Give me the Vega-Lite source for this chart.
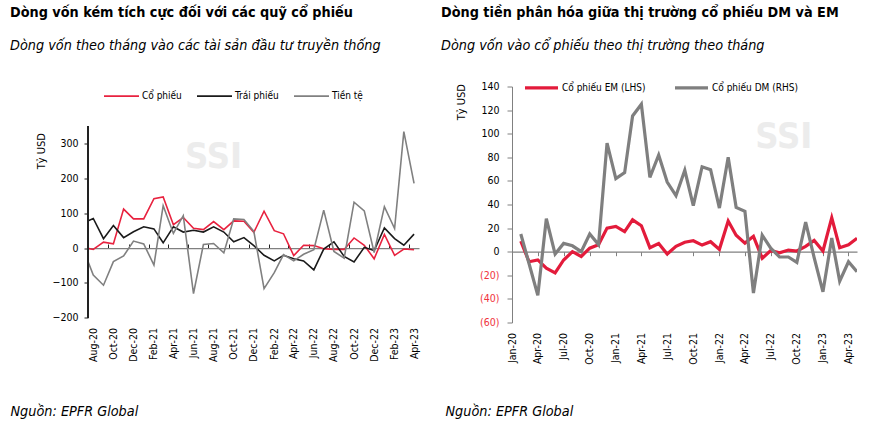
{
  "$schema": "https://vega.github.io/schema/vega-lite/v6.json",
  "background": "white",
  "padding": {"left": 10, "top": 5.5, "right": 5, "bottom": 5},
  "spacing": 21,
  "resolve": {"scale": {"color": "independent", "x": "independent", "y": "independent"}, "legend": {"color": "independent"}},
  "config": {
    "font": "'DejaVu Sans Condensed', 'Liberation Sans Narrow', sans-serif",
    "view": {"stroke": null},
    "axis": {"grid": false, "labelColor": "#000", "titleColor": "#000", "titleFontWeight": "normal", "labelFontSize": 10.5, "titleFontSize": 11, "labelOverlap": false},
    "legend": {"labelFontSize": 10, "labelColor": "#000", "symbolType": "stroke"},
    "title": {"color": "#000", "subtitleColor": "#000"}
  },
  "datasets": {
    "L": [
      {"d":"2020-07-01","s":"Cổ phiếu","v":2},{"d":"2020-08-01","s":"Cổ phiếu","v":-4},{"d":"2020-09-01","s":"Cổ phiếu","v":17},{"d":"2020-10-01","s":"Cổ phiếu","v":12},{"d":"2020-11-01","s":"Cổ phiếu","v":112},{"d":"2020-12-01","s":"Cổ phiếu","v":84},
      {"d":"2021-01-01","s":"Cổ phiếu","v":84},{"d":"2021-02-01","s":"Cổ phiếu","v":142},{"d":"2021-03-01","s":"Cổ phiếu","v":147},{"d":"2021-04-01","s":"Cổ phiếu","v":67},{"d":"2021-05-01","s":"Cổ phiếu","v":88},{"d":"2021-06-01","s":"Cổ phiếu","v":57},
      {"d":"2021-07-01","s":"Cổ phiếu","v":53},{"d":"2021-08-01","s":"Cổ phiếu","v":76},{"d":"2021-09-01","s":"Cổ phiếu","v":53},{"d":"2021-10-01","s":"Cổ phiếu","v":78},{"d":"2021-11-01","s":"Cổ phiếu","v":77},{"d":"2021-12-01","s":"Cổ phiếu","v":45},
      {"d":"2022-01-01","s":"Cổ phiếu","v":106},{"d":"2022-02-01","s":"Cổ phiếu","v":50},{"d":"2022-03-01","s":"Cổ phiếu","v":41},{"d":"2022-04-01","s":"Cổ phiếu","v":-22},{"d":"2022-05-01","s":"Cổ phiếu","v":8},{"d":"2022-06-01","s":"Cổ phiếu","v":7},
      {"d":"2022-07-01","s":"Cổ phiếu","v":-2},{"d":"2022-08-01","s":"Cổ phiếu","v":-4},{"d":"2022-09-01","s":"Cổ phiếu","v":-4},{"d":"2022-10-01","s":"Cổ phiếu","v":29},{"d":"2022-11-01","s":"Cổ phiếu","v":8},{"d":"2022-12-01","s":"Cổ phiếu","v":-31},
      {"d":"2023-01-01","s":"Cổ phiếu","v":39},{"d":"2023-02-01","s":"Cổ phiếu","v":-21},{"d":"2023-03-01","s":"Cổ phiếu","v":-3},{"d":"2023-04-01","s":"Cổ phiếu","v":-5},
      {"d":"2020-07-01","s":"Trái phiếu","v":72},{"d":"2020-08-01","s":"Trái phiếu","v":85},{"d":"2020-09-01","s":"Trái phiếu","v":27},{"d":"2020-10-01","s":"Trái phiếu","v":65},{"d":"2020-11-01","s":"Trái phiếu","v":30},{"d":"2020-12-01","s":"Trái phiếu","v":47},
      {"d":"2021-01-01","s":"Trái phiếu","v":61},{"d":"2021-02-01","s":"Trái phiếu","v":55},{"d":"2021-03-01","s":"Trái phiếu","v":15},{"d":"2021-04-01","s":"Trái phiếu","v":61},{"d":"2021-05-01","s":"Trái phiếu","v":46},{"d":"2021-06-01","s":"Trái phiếu","v":51},
      {"d":"2021-07-01","s":"Trái phiếu","v":46},{"d":"2021-08-01","s":"Trái phiếu","v":61},{"d":"2021-09-01","s":"Trái phiếu","v":46},{"d":"2021-10-01","s":"Trái phiếu","v":18},{"d":"2021-11-01","s":"Trái phiếu","v":30},{"d":"2021-12-01","s":"Trái phiếu","v":7},
      {"d":"2022-01-01","s":"Trái phiếu","v":-21},{"d":"2022-02-01","s":"Trái phiếu","v":-37},{"d":"2022-03-01","s":"Trái phiếu","v":-21},{"d":"2022-04-01","s":"Trái phiếu","v":-31},{"d":"2022-05-01","s":"Trái phiếu","v":-37},{"d":"2022-06-01","s":"Trái phiếu","v":-63},
      {"d":"2022-07-01","s":"Trái phiếu","v":-3},{"d":"2022-08-01","s":"Trái phiếu","v":18},{"d":"2022-09-01","s":"Trái phiếu","v":-24},{"d":"2022-10-01","s":"Trái phiếu","v":-40},{"d":"2022-11-01","s":"Trái phiếu","v":2},{"d":"2022-12-01","s":"Trái phiếu","v":-7},
      {"d":"2023-01-01","s":"Trái phiếu","v":58},{"d":"2023-02-01","s":"Trái phiếu","v":27},{"d":"2023-03-01","s":"Trái phiếu","v":8},{"d":"2023-04-01","s":"Trái phiếu","v":40},
      {"d":"2020-07-01","s":"Tiền tệ","v":-2},{"d":"2020-08-01","s":"Tiền tệ","v":-78},{"d":"2020-09-01","s":"Tiền tệ","v":-107},{"d":"2020-10-01","s":"Tiền tệ","v":-39},{"d":"2020-11-01","s":"Tiền tệ","v":-23},{"d":"2020-12-01","s":"Tiền tệ","v":20},
      {"d":"2021-01-01","s":"Tiền tệ","v":12},{"d":"2021-02-01","s":"Tiền tệ","v":-49},{"d":"2021-03-01","s":"Tiền tệ","v":122},{"d":"2021-04-01","s":"Tiền tệ","v":42},{"d":"2021-05-01","s":"Tiền tệ","v":93},{"d":"2021-06-01","s":"Tiền tệ","v":-131},
      {"d":"2021-07-01","s":"Tiền tệ","v":10},{"d":"2021-08-01","s":"Tiền tệ","v":13},{"d":"2021-09-01","s":"Tiền tệ","v":-14},{"d":"2021-10-01","s":"Tiền tệ","v":84},{"d":"2021-11-01","s":"Tiền tệ","v":82},{"d":"2021-12-01","s":"Tiền tệ","v":48},
      {"d":"2022-01-01","s":"Tiền tệ","v":-117},{"d":"2022-02-01","s":"Tiền tệ","v":-71},{"d":"2022-03-01","s":"Tiền tệ","v":-19},{"d":"2022-04-01","s":"Tiền tệ","v":-37},{"d":"2022-05-01","s":"Tiền tệ","v":-18},{"d":"2022-06-01","s":"Tiền tệ","v":-5},
      {"d":"2022-07-01","s":"Tiền tệ","v":109},{"d":"2022-08-01","s":"Tiền tệ","v":-10},{"d":"2022-09-01","s":"Tiền tệ","v":-29},{"d":"2022-10-01","s":"Tiền tệ","v":132},{"d":"2022-11-01","s":"Tiền tệ","v":107},{"d":"2022-12-01","s":"Tiền tệ","v":-13},
      {"d":"2023-01-01","s":"Tiền tệ","v":119},{"d":"2023-02-01","s":"Tiền tệ","v":56},{"d":"2023-03-01","s":"Tiền tệ","v":335},{"d":"2023-04-01","s":"Tiền tệ","v":186}
    ],
    "R": [
      {"d":"2020-02-01","s":"Cổ phiếu EM (LHS)","v":9},{"d":"2020-03-01","s":"Cổ phiếu EM (LHS)","v":-8.5},{"d":"2020-04-01","s":"Cổ phiếu EM (LHS)","v":-7},{"d":"2020-05-01","s":"Cổ phiếu EM (LHS)","v":-14},{"d":"2020-06-01","s":"Cổ phiếu EM (LHS)","v":-18},{"d":"2020-07-01","s":"Cổ phiếu EM (LHS)","v":-7},
      {"d":"2020-08-01","s":"Cổ phiếu EM (LHS)","v":0},{"d":"2020-09-01","s":"Cổ phiếu EM (LHS)","v":-4},{"d":"2020-10-01","s":"Cổ phiếu EM (LHS)","v":3},{"d":"2020-11-01","s":"Cổ phiếu EM (LHS)","v":6},{"d":"2020-12-01","s":"Cổ phiếu EM (LHS)","v":20},{"d":"2021-01-01","s":"Cổ phiếu EM (LHS)","v":21.5},
      {"d":"2021-02-01","s":"Cổ phiếu EM (LHS)","v":17},{"d":"2021-03-01","s":"Cổ phiếu EM (LHS)","v":27},{"d":"2021-04-01","s":"Cổ phiếu EM (LHS)","v":22},{"d":"2021-05-01","s":"Cổ phiếu EM (LHS)","v":3.4},{"d":"2021-06-01","s":"Cổ phiếu EM (LHS)","v":7},{"d":"2021-07-01","s":"Cổ phiếu EM (LHS)","v":-2},
      {"d":"2021-08-01","s":"Cổ phiếu EM (LHS)","v":4.5},{"d":"2021-09-01","s":"Cổ phiếu EM (LHS)","v":8},{"d":"2021-10-01","s":"Cổ phiếu EM (LHS)","v":9.3},{"d":"2021-11-01","s":"Cổ phiếu EM (LHS)","v":5.6},{"d":"2021-12-01","s":"Cổ phiếu EM (LHS)","v":8.5},{"d":"2022-01-01","s":"Cổ phiếu EM (LHS)","v":2},
      {"d":"2022-02-01","s":"Cổ phiếu EM (LHS)","v":26},{"d":"2022-03-01","s":"Cổ phiếu EM (LHS)","v":14},{"d":"2022-04-01","s":"Cổ phiếu EM (LHS)","v":7.3},{"d":"2022-05-01","s":"Cổ phiếu EM (LHS)","v":13},{"d":"2022-06-01","s":"Cổ phiếu EM (LHS)","v":-5.6},{"d":"2022-07-01","s":"Cổ phiếu EM (LHS)","v":1},
      {"d":"2022-08-01","s":"Cổ phiếu EM (LHS)","v":-1},{"d":"2022-09-01","s":"Cổ phiếu EM (LHS)","v":1.4},{"d":"2022-10-01","s":"Cổ phiếu EM (LHS)","v":0.6},{"d":"2022-11-01","s":"Cổ phiếu EM (LHS)","v":4.5},{"d":"2022-12-01","s":"Cổ phiếu EM (LHS)","v":9.6},{"d":"2023-01-01","s":"Cổ phiếu EM (LHS)","v":0.6},
      {"d":"2023-02-01","s":"Cổ phiếu EM (LHS)","v":28.8},{"d":"2023-03-01","s":"Cổ phiếu EM (LHS)","v":3.4},{"d":"2023-04-01","s":"Cổ phiếu EM (LHS)","v":5.9},{"d":"2023-05-01","s":"Cổ phiếu EM (LHS)","v":11.3},
      {"d":"2020-02-01","s":"Cổ phiếu DM (RHS)","v":15},{"d":"2020-03-01","s":"Cổ phiếu DM (RHS)","v":-10},{"d":"2020-04-01","s":"Cổ phiếu DM (RHS)","v":-37},{"d":"2020-05-01","s":"Cổ phiếu DM (RHS)","v":28},{"d":"2020-06-01","s":"Cổ phiếu DM (RHS)","v":-2},{"d":"2020-07-01","s":"Cổ phiếu DM (RHS)","v":7},
      {"d":"2020-08-01","s":"Cổ phiếu DM (RHS)","v":5},{"d":"2020-09-01","s":"Cổ phiếu DM (RHS)","v":0},{"d":"2020-10-01","s":"Cổ phiếu DM (RHS)","v":15},{"d":"2020-11-01","s":"Cổ phiếu DM (RHS)","v":6},{"d":"2020-12-01","s":"Cổ phiếu DM (RHS)","v":92},{"d":"2021-01-01","s":"Cổ phiếu DM (RHS)","v":62},
      {"d":"2021-02-01","s":"Cổ phiếu DM (RHS)","v":67},{"d":"2021-03-01","s":"Cổ phiếu DM (RHS)","v":115},{"d":"2021-04-01","s":"Cổ phiếu DM (RHS)","v":125},{"d":"2021-05-01","s":"Cổ phiếu DM (RHS)","v":63},{"d":"2021-06-01","s":"Cổ phiếu DM (RHS)","v":82},{"d":"2021-07-01","s":"Cổ phiếu DM (RHS)","v":59},
      {"d":"2021-08-01","s":"Cổ phiếu DM (RHS)","v":47.5},{"d":"2021-09-01","s":"Cổ phiếu DM (RHS)","v":69},{"d":"2021-10-01","s":"Cổ phiếu DM (RHS)","v":39},{"d":"2021-11-01","s":"Cổ phiếu DM (RHS)","v":72},{"d":"2021-12-01","s":"Cổ phiếu DM (RHS)","v":69.5},{"d":"2022-01-01","s":"Cổ phiếu DM (RHS)","v":37},
      {"d":"2022-02-01","s":"Cổ phiếu DM (RHS)","v":80},{"d":"2022-03-01","s":"Cổ phiếu DM (RHS)","v":37.6},{"d":"2022-04-01","s":"Cổ phiếu DM (RHS)","v":34.2},{"d":"2022-05-01","s":"Cổ phiếu DM (RHS)","v":-35},{"d":"2022-06-01","s":"Cổ phiếu DM (RHS)","v":14},{"d":"2022-07-01","s":"Cổ phiếu DM (RHS)","v":3},
      {"d":"2022-08-01","s":"Cổ phiếu DM (RHS)","v":-4.5},{"d":"2022-09-01","s":"Cổ phiếu DM (RHS)","v":-4.5},{"d":"2022-10-01","s":"Cổ phiếu DM (RHS)","v":-9},{"d":"2022-11-01","s":"Cổ phiếu DM (RHS)","v":25},{"d":"2022-12-01","s":"Cổ phiếu DM (RHS)","v":-5},{"d":"2023-01-01","s":"Cổ phiếu DM (RHS)","v":-34},
      {"d":"2023-02-01","s":"Cổ phiếu DM (RHS)","v":11.6},{"d":"2023-03-01","s":"Cổ phiếu DM (RHS)","v":-25},{"d":"2023-04-01","s":"Cổ phiếu DM (RHS)","v":-8.5},{"d":"2023-05-01","s":"Cổ phiếu DM (RHS)","v":-17}
    ],
    "WL": [{"d":"2021-08-01","v":263,"t":"SSI"}],
    "WR": [{"d":"2022-08-16","v":97,"t":"SSI"}]
  },
  "hconcat": [
    {
      "width": 331,
      "height": 231,
      "title": {
        "text": "Dòng vốn kém tích cực đối với các quỹ cổ phiếu",
        "subtitle": "Dòng vốn theo tháng vào các tài sản đầu tư truyền thống",
        "anchor": "start", "frame": "bounds",
        "fontSize": 14.3, "fontWeight": "bold",
        "subtitleFontSize": 14.3, "subtitleFontStyle": "italic", "subtitlePadding": 19,
        "offset": 24.2
      },
      "layer": [
        {
          "data": {"name": "L"},
          "mark": {"type": "line", "strokeWidth": 1.6, "clip": true},
          "encoding": {
            "x": {"field": "d", "type": "temporal",
              "scale": {"domain": [{"year":2020,"month":7,"date":16},{"year":2023,"month":4,"date":16}]},
              "axis": {"orient": "bottom", "format": "%b-%y", "labelAngle": -90, "labelPadding": 10, "domain": false, "ticks": false, "labelOverlap": false,
                "values": [{"year":2020,"month":8,"date":1},{"year":2020,"month":10,"date":1},{"year":2020,"month":12,"date":1},{"year":2021,"month":2,"date":1},{"year":2021,"month":4,"date":1},{"year":2021,"month":6,"date":1},{"year":2021,"month":8,"date":1},{"year":2021,"month":10,"date":1},{"year":2021,"month":12,"date":1},{"year":2022,"month":2,"date":1},{"year":2022,"month":4,"date":1},{"year":2022,"month":6,"date":1},{"year":2022,"month":8,"date":1},{"year":2022,"month":10,"date":1},{"year":2022,"month":12,"date":1},{"year":2023,"month":2,"date":1},{"year":2023,"month":4,"date":1}],
                "title": "Nguồn: EPFR Global", "titleFontStyle": "italic", "titleFontSize": 14.3, "titleAnchor": "start", "titleAlign": "left", "titleBaseline": "middle", "titleX": -78, "titleY": 94}},
            "y": {"field": "v", "type": "quantitative",
              "scale": {"domain": [-200, 465], "nice": false},
              "axis": {"values": [-200, -100, 0, 100, 200, 300], "labelOverlap": false, "title": "Tỷ USD", "titleAnchor": "end", "titleY": 46, "titlePadding": 6, "labelPadding": 6, "tickSize": 4, "domain": false, "tickColor": "#222"}},
            "color": {"field": "s", "type": "nominal",
              "scale": {"domain": ["Cổ phiếu", "Trái phiếu", "Tiền tệ"], "range": ["#e8223f", "#1a1a1a", "#808080"]},
              "legend": {"title": null, "orient": "none", "legendX": 15, "legendY": -9.2, "direction": "horizontal", "symbolSize": 1225, "symbolStrokeWidth": 1.8, "columnPadding": 11, "labelOffset": 2}},
            "order": {"field": "d"}
          }
        },
        {
          "data": {"name": "WL"},
          "mark": {"type": "text", "fontSize": 36, "fontWeight": "bold", "color": "#ececec"},
          "encoding": {
            "x": {"field": "d", "type": "temporal", "axis": null},
            "y": {"field": "v", "type": "quantitative"},
            "text": {"field": "t"}
          }
        },
        {
          "data": {"name": "L"},
          "mark": {"type": "rule", "color": "#222", "strokeWidth": 1},
          "encoding": {
            "x": {"datum": {"year":2020,"month":7,"date":16}, "type": "temporal", "axis": null},
            "y": {"datum": -200},
            "y2": {"datum": 350}
          }
        },
        {
          "data": {"name": "L"},
          "mark": {"type": "line", "opacity": 0},
          "encoding": {
            "x": {"field": "d", "type": "temporal",
              "axis": {"orient": "bottom", "offset": -69.47, "labels": false, "title": null, "domain": true, "domainColor": "#808080", "domainWidth": 1.3, "ticks": true, "tickColor": "#222", "tickSize": -4,
                "values": [{"year":2020,"month":7,"date":16},{"year":2020,"month":9,"date":16},{"year":2020,"month":11,"date":16},{"year":2021,"month":1,"date":16},{"year":2021,"month":3,"date":16},{"year":2021,"month":5,"date":16},{"year":2021,"month":7,"date":16},{"year":2021,"month":9,"date":16},{"year":2021,"month":11,"date":16},{"year":2022,"month":1,"date":16},{"year":2022,"month":3,"date":16},{"year":2022,"month":5,"date":16},{"year":2022,"month":7,"date":16},{"year":2022,"month":9,"date":16},{"year":2022,"month":11,"date":16},{"year":2023,"month":1,"date":16},{"year":2023,"month":3,"date":16}]}},
            "y": {"datum": 0, "type": "quantitative"}
          }
        }
      ],
      "resolve": {"axis": {"x": "independent"}}
    },
    {
      "width": 345,
      "height": 236,
      "title": {
        "text": "Dòng tiền phân hóa giữa thị trường cổ phiếu DM và EM",
        "subtitle": "Dòng vốn vào cổ phiếu theo thị trường theo tháng",
        "anchor": "start", "frame": "bounds", "dx": -4,
        "fontSize": 14.3, "fontWeight": "bold",
        "subtitleFontSize": 14.3, "subtitleFontStyle": "italic", "subtitlePadding": 19,
        "offset": 16.2
      },
      "layer": [
        {
          "data": {"name": "R"},
          "mark": {"type": "line", "strokeWidth": 3.2, "clip": true},
          "encoding": {
            "x": {"field": "d", "type": "temporal",
              "scale": {"domain": [{"year":2020,"month":1,"date":1},{"year":2023,"month":5,"date":1}]},
              "axis": {"orient": "bottom", "format": "%b-%y", "labelAngle": -90, "labelPadding": 10, "domain": false, "ticks": false, "labelOverlap": false,
                "tickCount": {"interval": "month", "step": 3},
                "title": "Nguồn: EPFR Global", "titleFontStyle": "italic", "titleFontSize": 14.3, "titleAnchor": "start", "titleAlign": "left", "titleBaseline": "middle", "titleX": -67, "titleY": 89}},
            "y": {"field": "v", "type": "quantitative",
              "scale": {"domain": [-60, 140], "nice": false},
              "axis": {"orient": "left", "values": [0, 20, 40, 60, 80, 100, 120, 140], "labelOverlap": false,
                "title": "Tỷ USD", "titleAnchor": "end", "titleY": -3, "titlePadding": 14, "labelPadding": 8, "tickSize": 5, "domainColor": "#808080", "tickColor": "#808080"}},
            "color": {"field": "s", "type": "nominal",
              "scale": {"domain": ["Cổ phiếu EM (LHS)", "Cổ phiếu DM (RHS)"], "range": ["#e31b3b", "#7f7f7f"]},
              "legend": {"title": null, "orient": "none", "legendX": 11, "legendY": -17.2, "direction": "horizontal", "symbolSize": 1089, "symbolStrokeWidth": 3.2, "columnPadding": 22, "labelOffset": 2}},
            "order": {"field": "d"}
          }
        },
        {
          "data": {"name": "WR"},
          "mark": {"type": "text", "fontSize": 36, "fontWeight": "bold", "color": "#ececec"},
          "encoding": {
            "x": {"field": "d", "type": "temporal", "axis": null},
            "y": {"field": "v", "type": "quantitative", "axis": null},
            "text": {"field": "t"}
          }
        },
        {
          "data": {"name": "R"},
          "mark": {"type": "line", "opacity": 0},
          "encoding": {
            "x": {"field": "d", "type": "temporal",
              "axis": {"orient": "bottom", "offset": -70.8, "labels": false, "title": null, "domain": true, "domainColor": "#808080", "domainWidth": 1.3, "ticks": true, "tickColor": "#808080", "tickSize": 4,
                "tickCount": {"interval": "month", "step": 3}}},
            "y": {"datum": 0, "type": "quantitative",
              "axis": {"orient": "left", "values": [-60, -40, -20], "labelOverlap": false, "labelExpr": "'(' + abs(datum.value) + ')'", "labelColor": "#f0323c", "title": null, "labelPadding": 8, "tickSize": 5, "domain": false, "tickColor": "#808080"}}
          }
        }
      ],
      "resolve": {"axis": {"x": "independent", "y": "independent"}}
    }
  ]
}
